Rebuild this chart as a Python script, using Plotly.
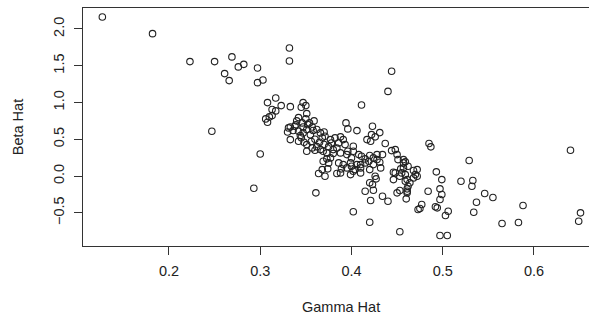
import plotly.graph_objects as go

gamma_hat = [
    0.127, 0.182, 0.223, 0.250, 0.269, 0.261, 0.266, 0.276, 0.282, 0.297,
    0.297, 0.303, 0.247, 0.300, 0.293, 0.332, 0.332, 0.444, 0.440, 0.411,
    0.308, 0.317, 0.313, 0.317, 0.323, 0.306, 0.310, 0.313, 0.308, 0.333,
    0.347, 0.345, 0.350, 0.351, 0.350, 0.342, 0.354, 0.359, 0.346, 0.333,
    0.339, 0.347, 0.394, 0.396, 0.406, 0.423, 0.431, 0.426, 0.417, 0.422,
    0.421, 0.437, 0.485, 0.487, 0.529, 0.493, 0.499, 0.520, 0.533, 0.532,
    0.546, 0.555, 0.537, 0.534, 0.588, 0.565, 0.583, 0.497, 0.505, 0.640,
    0.651, 0.649, 0.361, 0.402, 0.420, 0.453, 0.473, 0.484, 0.497, 0.499,
    0.497, 0.492, 0.494, 0.506, 0.503, 0.475, 0.477, 0.460, 0.453, 0.461,
    0.415, 0.424, 0.421, 0.434, 0.440, 0.423, 0.427, 0.420, 0.364, 0.368,
    0.374, 0.371, 0.384, 0.388, 0.389, 0.388, 0.391, 0.393, 0.396, 0.402,
    0.448, 0.450, 0.451, 0.462, 0.457, 0.454, 0.472, 0.470, 0.408, 0.411,
    0.415, 0.419, 0.424, 0.428, 0.431, 0.434, 0.406, 0.399, 0.395, 0.402,
    0.410, 0.420, 0.426, 0.432, 0.446, 0.453, 0.459, 0.459, 0.457, 0.468,
    0.464, 0.461, 0.461, 0.455, 0.331, 0.338, 0.342, 0.347, 0.351, 0.357,
    0.362, 0.366, 0.371, 0.377, 0.382, 0.386, 0.333, 0.342, 0.351, 0.357,
    0.366, 0.373, 0.380, 0.388, 0.395, 0.400, 0.336, 0.344, 0.355, 0.360,
    0.365, 0.370, 0.352, 0.340, 0.358, 0.362, 0.368, 0.375, 0.378, 0.384,
    0.370, 0.345, 0.330, 0.348, 0.356, 0.351, 0.360, 0.369, 0.380, 0.402,
    0.420, 0.428, 0.444, 0.457, 0.373, 0.386, 0.391, 0.400, 0.404, 0.410,
    0.415, 0.424, 0.410, 0.399, 0.446, 0.459, 0.462, 0.450, 0.461, 0.369,
    0.375, 0.377, 0.448, 0.468, 0.472,
]

beta_hat = [
    2.163, 1.936, 1.556, 1.556, 1.620, 1.393, 1.298, 1.484, 1.519, 1.470,
    1.270, 1.307, 0.609, 0.299, -0.166, 1.742, 1.565, 1.424, 1.151, 0.967,
    0.999, 1.062, 0.904, 0.886, 0.958, 0.777, 0.804, 0.822, 0.731, 0.944,
    0.999, 0.935, 0.958, 0.849, 0.777, 0.795, 0.723, 0.750, 0.723, 0.668,
    0.696, 0.668, 0.723, 0.641, 0.618, 0.677, 0.591, 0.533, 0.496, 0.564,
    0.473, 0.442, 0.442, 0.397, 0.211, 0.057, -0.048, -0.071, -0.061, -0.139,
    -0.238, -0.292, -0.356, -0.492, -0.401, -0.645, -0.632, -0.808, -0.808, 0.351,
    -0.500, -0.614, -0.228, -0.486, -0.628, -0.758, -0.455, -0.207, -0.174, -0.251,
    -0.319, -0.418, -0.432, -0.478, -0.537, -0.442, -0.387, -0.310, -0.197, -0.207,
    -0.207, -0.193, -0.333, -0.274, -0.342, -0.115, -0.038, -0.092, 0.034, 0.088,
    0.098, -0.003, 0.034, 0.043, 0.098, 0.533, 0.496, 0.428, 0.337, 0.405,
    0.360, 0.292, 0.224, 0.133, 0.179, 0.098, 0.088, 0.020, 0.292, 0.269,
    0.233, 0.201, 0.247, 0.224, 0.188, 0.292, 0.156, 0.179, 0.111, 0.065,
    0.111, 0.088, -0.003, 0.111, 0.052, -0.003, 0.020, 0.193, 0.111, -0.025,
    -0.092, -0.174, -0.048, 0.043, 0.655, 0.677, 0.609, 0.587, 0.632, 0.668,
    0.632, 0.587, 0.541, 0.496, 0.519, 0.451, 0.496, 0.473, 0.428, 0.383,
    0.360, 0.315, 0.360, 0.315, 0.292, 0.247, 0.620, 0.550, 0.560, 0.500,
    0.460, 0.430, 0.700, 0.750, 0.620, 0.400, 0.520, 0.400, 0.450, 0.380,
    0.600, 0.520, 0.600, 0.460, 0.470, 0.337, 0.351, 0.337, 0.306, 0.337,
    0.279, 0.292, 0.346, 0.224, 0.234, 0.179, 0.156, 0.133, 0.088, 0.156,
    0.179, 0.156, 0.043, 0.020, -0.048, -0.071, -0.139, -0.228, -0.228, 0.201,
    0.179, 0.247, 0.043, 0.075, -0.003,
]

x_ticks = [0.2, 0.3, 0.4, 0.5, 0.6]
y_ticks = [-0.5, 0.0, 0.5, 1.0, 1.5, 2.0]
x_title = "Gamma Hat"
y_title = "Beta Hat"

FONT = "Arial, Liberation Sans, Helvetica, sans-serif"
INK = "#222222"

fig = go.Figure(
    go.Scatter(
        x=gamma_hat, y=beta_hat, mode="markers",
        marker=dict(symbol="circle-open", size=6.5, color=INK, line=dict(width=1.1, color=INK)),
        hoverinfo="skip",
    )
)

fig.update_layout(
    width=589, height=320,
    margin=dict(l=83, r=0, t=8, b=74, autoexpand=False),
    paper_bgcolor="white", plot_bgcolor="white",
    showlegend=False,
    font=dict(family=FONT, size=14.5, color=INK),
    xaxis=dict(
        range=[0.1058, 0.6603], tickvals=x_ticks, tickformat=".1f",
        showgrid=False, zeroline=False,
        showline=True, mirror=True, linecolor="#333333", linewidth=1,
        ticks="outside", ticklen=8, tickcolor="#333333", tickwidth=1,
        ticklabelstandoff=4,
        tickfont=dict(family=FONT, size=14.5, color=INK),
    ),
    yaxis=dict(
        range=[-0.951, 2.285], tickvals=y_ticks, tickformat=".1f",
        showgrid=False, zeroline=False,
        showline=True, mirror=False, linecolor="#333333", linewidth=1,
        ticks="outside", ticklen=8, tickcolor="#333333", tickwidth=1,
        tickangle=-90, ticklabelstandoff=4,
        tickfont=dict(family=FONT, size=14.5, color=INK),
    ),
    annotations=[
        dict(text=x_title, xref="paper", yref="paper", x=0.51, y=-0.256,
             xanchor="center", yanchor="middle", showarrow=False,
             font=dict(family=FONT, size=14.5, color=INK)),
        dict(text=y_title, xref="paper", yref="paper", x=-0.128, y=0.5,
             xanchor="center", yanchor="middle", textangle=-90, showarrow=False,
             font=dict(family=FONT, size=14.5, color=INK)),
    ],
)

fig.write_html("out.html", config={"displayModeBar": False})
